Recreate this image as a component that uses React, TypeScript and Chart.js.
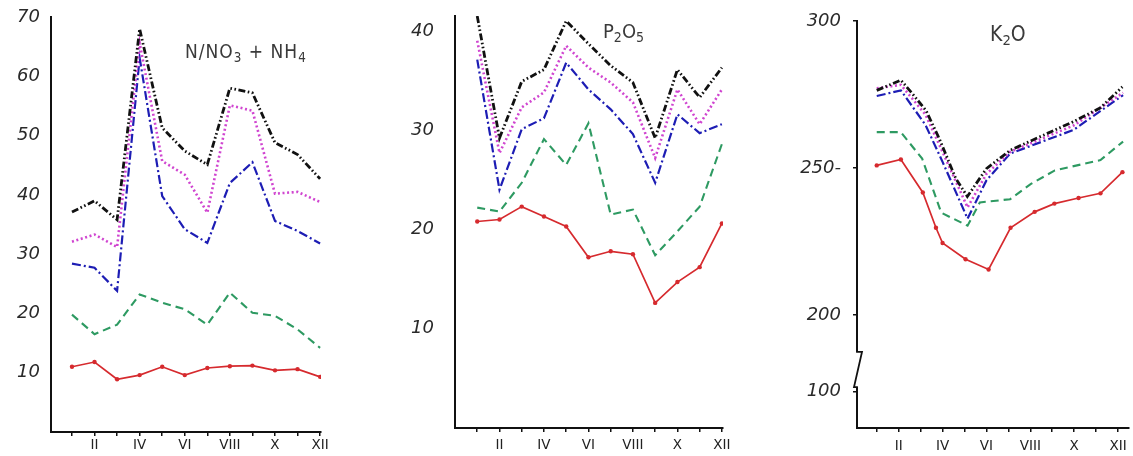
import React, { useEffect, useRef } from "react";
import { Chart, registerables } from "chart.js";

Chart.register(...registerables);

// ---------- shared axis data ----------
const monthTicks = [1, 2, 3, 4, 5, 6, 7, 8, 9, 10, 11, 12];
const monthLabels = ["", "II", "", "IV", "", "VI", "", "VIII", "", "X", "", "XII"];

// ---------- Panel 1: N/NO3 + NH4 ----------
const nBlack = [37.1, 39.0, 35.8, 68.0, 51.3, 47.4, 45.1, 58.0, 57.2, 48.8, 46.8, 42.7];
const nMagenta = [32.1, 33.3, 31.2, 65.6, 45.7, 43.4, 37.0, 55.1, 54.2, 40.2, 40.5, 38.8];
const nBlue = [28.4, 27.7, 23.8, 63.1, 39.8, 34.2, 31.9, 42.0, 45.5, 35.6, 33.9, 31.8];
const nGreen = [19.8, 16.5, 18.1, 23.2, 21.8, 20.7, 18.1, 23.5, 20.1, 19.6, 17.3, 14.2];
const nRed = [11.0, 11.8, 8.9, 9.6, 11.0, 9.6, 10.8, 11.1, 11.2, 10.4, 10.6, 9.3];
const nTicks = [10, 20, 30, 40, 50, 60, 70];
const nTickLabels = ["10", "20", "30", "40", "50", "60", "70"];

// ---------- Panel 2: P2O5 ----------
const pBlack = [41.5, 29.2, 34.9, 36.1, 41.0, 38.7, 36.5, 34.8, 29.2, 36.1, 33.3, 36.3];
const pMagenta = [39.0, 27.7, 32.3, 33.8, 38.5, 36.3, 34.8, 32.8, 27.2, 34.1, 30.6, 34.1];
const pBlue = [37.1, 24.0, 30.1, 31.2, 36.8, 34.1, 32.1, 29.6, 24.7, 31.6, 29.7, 30.6];
const pGreen = [22.2, 21.8, 24.7, 29.1, 26.5, 30.7, 21.5, 22.0, 17.4, 19.8, 22.3, 28.6];
const pRed = [20.8, 21.0, 22.3, 21.3, 20.3, 17.2, 17.8, 17.5, 12.6, 14.7, 16.2, 20.6];
const pTicks = [10, 20, 30, 40];
const pTickLabels = ["10", "20", "30", "40"];

// ---------- Panel 3: K2O (month positions are fractional) ----------
const kBlackX = [1, 2.1, 2.6, 3.25, 3.85, 4.6, 5.13, 6.0, 7.1, 10.0, 11.2, 12.2];
const kBlackY = [276.4, 279.9, 275.5, 269.5, 260.0, 246.5, 240.3, 249.8, 256.1, 265.9, 270.5, 277.6];
const kMagentaX = [1, 2.1, 3.22, 4.0, 5.14, 6.0, 7.08, 9.98, 12.23];
const kMagentaY = [277.1, 278.3, 268.2, 255.5, 236.6, 248.0, 255.5, 264.5, 275.6];
const kBlueX = [1, 2.1, 3.22, 4.0, 5.14, 6.0, 7.08, 9.98, 12.23];
const kBlueY = [274.5, 276.4, 264.7, 252.1, 232.8, 245.8, 254.9, 263.0, 274.8];
const kGreenX = [1, 2.1, 3.07, 3.94, 5.14, 5.7, 7.08, 8.03, 9.12, 11.2, 12.23];
const kGreenY = [262.2, 262.2, 253.2, 234.8, 230.4, 238.3, 239.4, 244.6, 249.2, 252.7, 259.0];
const kRedX = [1, 2.1, 3.1, 3.7, 4.0, 5.05, 6.1, 7.1, 8.2, 9.1, 10.2, 11.2, 12.2];
const kRedY = [250.9, 252.9, 241.7, 229.7, 224.5, 219.0, 215.5, 229.7, 235.1, 237.9, 239.8, 241.4, 248.6];
const kTicks = [174, 200, 250, 300];
const kTickLabels = ["100", "200", "250-", "300"];
const kBreak = [187.5, 175.5];

// ---------- styles ----------
type Style = { color: string; dash: number[]; width: number; points: boolean };
const STYLES: Record<string, Style> = {
  black: { color: "#111111", dash: [7, 2.5, 1.6, 2.5, 1.6, 2.5], width: 2.8, points: false },
  magenta: { color: "#d045d0", dash: [2, 2.6], width: 2.6, points: false },
  blue: { color: "#1d1db4", dash: [9, 3, 2, 3], width: 2.2, points: false },
  green: { color: "#2e9a62", dash: [8, 5], width: 2.1, points: false },
  red: { color: "#d62a2e", dash: [], width: 1.7, points: true },
};

function ds(xs: number[], ys: number[], key: string) {
  const s = STYLES[key];
  return {
    data: ys.map((y, i) => ({ x: xs[i], y })),
    borderColor: s.color,
    backgroundColor: s.color,
    borderWidth: s.width,
    borderDash: s.dash,
    pointRadius: s.points ? 2.2 : 0,
    pointBorderWidth: 0,
    pointBackgroundColor: s.color,
    tension: 0,
    fill: false,
  };
}

function monthly(ys: number[], key: string) {
  return ds(monthTicks, ys, key);
}

const breakPlugin = {
  id: "axisBreak",
  afterDraw(chart: any) {
    const ctx = chart.ctx;
    const ys = chart.scales.y;
    const x0 = chart.chartArea.left;
    const yA = ys.getPixelForValue(kBreak[0]);
    const yB = ys.getPixelForValue(kBreak[1]);
    ctx.save();
    ctx.fillStyle = "#ffffff";
    ctx.fillRect(x0 - 3, yA, 6, yB - yA);
    ctx.strokeStyle = "#111111";
    ctx.lineWidth = 1.8;
    ctx.beginPath();
    ctx.moveTo(x0, yA - 1);
    ctx.lineTo(x0, yA);
    ctx.lineTo(x0 + 5, yA);
    ctx.lineTo(x0 - 3, yB);
    ctx.lineTo(x0, yB);
    ctx.lineTo(x0, yB + 1);
    ctx.stroke();
    ctx.restore();
  },
};

type PanelProps = {
  left: number;
  width: number;
  yAxisWidth: number;
  xAxisHeight: number;
  padTop: number;
  padRight: number;
  xMin: number;
  xMax: number;
  yMin: number;
  yMax: number;
  yTicks: number[];
  yLabels: string[];
  yTickLen: number;
  yPad: number;
  xPad: number;
  datasets: any[];
  withBreak?: boolean;
};

const H = 456;

function Panel(p: PanelProps) {
  const ref = useRef<HTMLCanvasElement>(null);
  useEffect(() => {
    const chart = new Chart(ref.current as HTMLCanvasElement, {
      type: "line",
      data: { datasets: p.datasets },
      options: {
        animation: false,
        responsive: false,
        maintainAspectRatio: false,
        layout: { padding: { top: p.padTop, right: p.padRight, left: 0, bottom: 0 } },
        plugins: { legend: { display: false }, tooltip: { enabled: false }, title: { display: false } },
        scales: {
          x: {
            type: "linear",
            min: p.xMin,
            max: p.xMax,
            afterBuildTicks: (s: any) => {
              s.ticks = monthTicks.map((v) => ({ value: v }));
            },
            afterFit: (s: any) => {
              s.height = p.xAxisHeight;
              s.paddingLeft = 0;
              s.paddingRight = 0;
            },
            ticks: {
              autoSkip: false,
              maxRotation: 0,
              minRotation: 0,
              padding: p.xPad,
              color: "#222222",
              font: { family: "DejaVu Sans", size: 13.5 },
              callback: (v: any) => monthLabels[monthTicks.indexOf(Number(v))] ?? "",
            },
            grid: { display: true, drawOnChartArea: false, drawTicks: true, tickLength: 4, color: "#111111", lineWidth: 1.5 },
            border: { display: true, color: "#111111", width: 2 },
          },
          y: {
            type: "linear",
            min: p.yMin,
            max: p.yMax,
            afterBuildTicks: (s: any) => {
              s.ticks = p.yTicks.map((v) => ({ value: v }));
            },
            afterFit: (s: any) => {
              s.width = p.yAxisWidth;
              s.paddingTop = 0;
              s.paddingBottom = 0;
            },
            ticks: {
              padding: p.yPad,
              color: "#2a2a2a",
              font: { family: "DejaVu Sans", size: 18, style: "italic" },
              callback: (v: any) => p.yLabels[p.yTicks.indexOf(Number(v))] ?? "",
            },
            grid: {
              display: p.yTickLen > 0,
              drawOnChartArea: false,
              drawTicks: true,
              tickLength: p.yTickLen,
              color: "#111111",
              lineWidth: 1.5,
            },
            border: { display: true, color: "#111111", width: 2 },
          },
        },
      },
      plugins: p.withBreak ? [breakPlugin] : [],
    });
    return () => chart.destroy();
  }, []);
  return (
    <canvas
      ref={ref}
      width={p.width}
      height={H}
      style={{ position: "absolute", left: p.left, top: 0, width: p.width, height: H }}
    />
  );
}

const titleStyle: React.CSSProperties = {
  position: "absolute",
  fontFamily: "'Liberation Sans Narrow', 'DejaVu Sans Condensed', 'DejaVu Sans', sans-serif",
  color: "#3a3a3a",
  whiteSpace: "nowrap",
  lineHeight: 1,
};
const subStyle: React.CSSProperties = { fontSize: "0.7em", verticalAlign: "-0.3em" };

export default function App() {
  return (
    <div
      style={{
        position: "absolute",
        left: 0,
        top: 0,
        width: 1133,
        height: 456,
        overflow: "hidden",
        background: "#ffffff",
      }}
    >
      <Panel
        left={0}
        width={340}
        yAxisWidth={51}
        xAxisHeight={24}
        padTop={17}
        padRight={19}
        xMin={0.07}
        xMax={12.04}
        yMin={0}
        yMax={70}
        yTicks={nTicks}
        yLabels={nTickLabels}
        yTickLen={0}
        yPad={11}
        xPad={1}
        datasets={[
          monthly(nBlack, "black"),
          monthly(nMagenta, "magenta"),
          monthly(nBlue, "blue"),
          monthly(nGreen, "green"),
          monthly(nRed, "red"),
        ]}
      />
      <Panel
        left={345}
        width={400}
        yAxisWidth={110}
        xAxisHeight={28}
        padTop={16}
        padRight={22}
        xMin={0}
        xMax={12.05}
        yMin={0}
        yMax={41.5}
        yTicks={pTicks}
        yLabels={pTickLabels}
        yTickLen={0}
        yPad={21}
        xPad={5}
        datasets={[
          monthly(pBlack, "black"),
          monthly(pMagenta, "magenta"),
          monthly(pBlue, "blue"),
          monthly(pGreen, "green"),
          monthly(pRed, "red"),
        ]}
      />
      <Panel
        left={760}
        width={373}
        yAxisWidth={97}
        xAxisHeight={28}
        padTop={21}
        padRight={0}
        xMin={0.1}
        xMax={12.5}
        yMin={161.6}
        yMax={300}
        yTicks={kTicks}
        yLabels={kTickLabels}
        yTickLen={4}
        yPad={12}
        xPad={6}
        withBreak
        datasets={[
          ds(kBlackX, kBlackY, "black"),
          ds(kMagentaX, kMagentaY, "magenta"),
          ds(kBlueX, kBlueY, "blue"),
          ds(kGreenX, kGreenY, "green"),
          ds(kRedX, kRedY, "red"),
        ]}
      />
      <div style={{ ...titleStyle, left: 185, top: 42, fontSize: 19, letterSpacing: 1 }}>
        N/NO<span style={subStyle}>3</span> + NH<span style={subStyle}>4</span>
      </div>
      <div style={{ ...titleStyle, left: 603, top: 21, fontSize: 20 }}>
        P<span style={subStyle}>2</span>O<span style={subStyle}>5</span>
      </div>
      <div style={{ ...titleStyle, left: 990, top: 24, fontSize: 21 }}>
        K<span style={subStyle}>2</span>O
      </div>
    </div>
  );
}
